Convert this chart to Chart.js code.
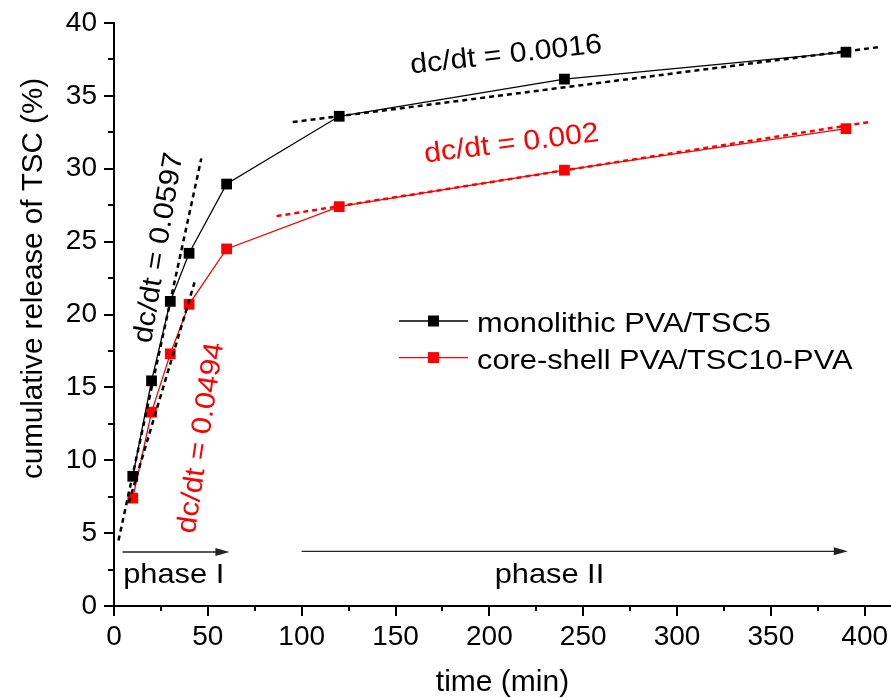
<!DOCTYPE html>
<html>
<head>
<meta charset="utf-8">
<script src="https://cdn.jsdelivr.net/npm/chart.js@4.4.1/dist/chart.umd.min.js"></script>
<style>
  html, body { margin: 0; padding: 0; background: #fff; }
  #wrap { width: 891px; height: 698px; }
</style>
</head>
<body>
<div id="wrap"><canvas id="c" width="891" height="698"></canvas></div>
<script>
// ---- data ----
const times = [10, 20, 30, 40, 60, 120, 240, 390];
const monolithic = [8.9, 15.45, 20.9, 24.2, 28.95, 33.6, 36.15, 38.0];
const coreShell = [7.4, 13.3, 17.3, 20.7, 24.5, 27.4, 29.9, 32.75];
const seriesLabels = ['monolithic PVA/TSC5', 'core-shell PVA/TSC10-PVA'];

// linear fits (dashed), endpoints in (time, %)
const fitMonoI_t = [2.4, 46.5];   const fitMonoI_c = [4.5, 30.7];
const fitCoreI_t = [7.9, 42.9];   const fitCoreI_c = [7.1, 22.2];
const fitMonoII_t = [95.2, 407.8]; const fitMonoII_c = [33.2, 38.35];
const fitCoreII_t = [86.6, 402];   const fitCoreII_c = [26.75, 33.2];

// slope labels
const slopeLabels = ['dc/dt = 0.0016', 'dc/dt = 0.002', 'dc/dt = 0.0597', 'dc/dt = 0.0494'];
const slopeLabel_t = [209.4, 212.3, 28.1, 50.6];
const slopeLabel_c = [37.26, 31.17, 24.49, 11.46];

// phase arrows
const phaseLabels = ['phase I', 'phase II'];
const phaseArrowStart_t = [4.5, 100];
const phaseArrowEnd_t = [61.5, 391];
const phaseArrow_c = [3.7, 3.75];
const phaseLabel_t = [31.8, 232];
const phaseLabel_c = [1.58, 1.58];

const xTicks = [0, 50, 100, 150, 200, 250, 300, 350, 400];
const yTicks = [0, 5, 10, 15, 20, 25, 30, 35, 40];

// ---- helpers ----
const pts = (xs, ys) => xs.map((x, i) => ({ x: x, y: ys[i] }));
const FONT = "'Liberation Sans', Arial, sans-serif";

function fitDs(xs, ys, color) {
  return {
    label: '_fit', data: pts(xs, ys), borderColor: color, backgroundColor: color,
    borderWidth: 2.5, borderDash: [5, 4], pointRadius: 0, fill: false, tension: 0
  };
}

function txt(ctx, s, x, y, angleDeg, size, color, align, sx) {
  ctx.save();
  ctx.translate(x, y);
  ctx.rotate(angleDeg * Math.PI / 180);
  ctx.scale(sx, 1);
  ctx.font = size + 'px ' + FONT;
  ctx.fillStyle = color;
  ctx.textAlign = align;
  ctx.textBaseline = 'alphabetic';
  ctx.fillText(s, 0, 0);
  ctx.restore();
}

const extras = {
  id: 'extras',
  afterDraw(chart) {
    const ctx = chart.ctx;
    const xs = chart.scales.x, ys = chart.scales.y;
    const ca = chart.chartArea;

    // minor ticks
    ctx.save();
    ctx.strokeStyle = '#000';
    ctx.lineWidth = 2;
    for (let v = 25; v < 414; v += 50) {
      const px = Math.round(xs.getPixelForValue(v));
      ctx.beginPath(); ctx.moveTo(px, ca.bottom); ctx.lineTo(px, ca.bottom + 5); ctx.stroke();
    }
    for (let v = 2.5; v < 40; v += 5) {
      const py = Math.round(ys.getPixelForValue(v));
      ctx.beginPath(); ctx.moveTo(ca.left, py); ctx.lineTo(ca.left - 6, py); ctx.stroke();
    }
    ctx.restore();

    // phase arrows
    for (let i = 0; i < phaseLabels.length; i++) {
      const x0 = xs.getPixelForValue(phaseArrowStart_t[i]);
      const x1 = xs.getPixelForValue(phaseArrowEnd_t[i]);
      const y = ys.getPixelForValue(phaseArrow_c[i]);
      ctx.save();
      ctx.strokeStyle = '#222'; ctx.fillStyle = '#222'; ctx.lineWidth = 1.4;
      ctx.beginPath(); ctx.moveTo(x0, y); ctx.lineTo(x1 - 10, y); ctx.stroke();
      ctx.beginPath(); ctx.moveTo(x1, y); ctx.lineTo(x1 - 14, y - 4); ctx.lineTo(x1 - 14, y + 4); ctx.closePath(); ctx.fill();
      ctx.restore();
      txt(ctx, phaseLabels[i], xs.getPixelForValue(phaseLabel_t[i]), ys.getPixelForValue(phaseLabel_c[i]), 0, 28, '#000', 'center', 1.1);
    }

    // slope labels
    const angles = [-6.3, -7, -80.6, -81.5];
    const colors = ['#000', '#ff0000', '#000', '#ff0000'];
    for (let i = 0; i < slopeLabels.length; i++) {
      txt(ctx, slopeLabels[i], xs.getPixelForValue(slopeLabel_t[i]), ys.getPixelForValue(slopeLabel_c[i]),
          angles[i], 28, colors[i], 'center', 1.08);
    }

    // legend
    const lcol = ['#000', '#ff0000'];
    const lx = ca.left + 285, ly0 = ca.top + 298, gap = 36.6;
    for (let i = 0; i < 2; i++) {
      const y = ly0 + i * gap;
      ctx.save();
      ctx.strokeStyle = lcol[i]; ctx.fillStyle = lcol[i]; ctx.lineWidth = 1.3;
      ctx.beginPath(); ctx.moveTo(lx, y); ctx.lineTo(lx + 69, y); ctx.stroke();
      ctx.fillRect(lx + 29, y - 5.5, 11, 11);
      ctx.restore();
      txt(ctx, seriesLabels[i], lx + 78, y + 11, 0, 28, '#000', 'left', 1.1);
    }

    // y axis title
    txt(ctx, 'cumulative release of TSC (%)', 41.5, 278.5, -90, 29, '#000', 'center', 1.02);
  }
};

new Chart(document.getElementById('c'), {
  type: 'line',
  data: {
    datasets: [
      fitDs(fitMonoI_t, fitMonoI_c, '#000'),
      fitDs(fitCoreI_t, fitCoreI_c, '#000'),
      fitDs(fitMonoII_t, fitMonoII_c, '#000'),
      fitDs(fitCoreII_t, fitCoreII_c, '#ff0000'),
      {
        label: seriesLabels[0], data: pts(times, monolithic),
        borderColor: '#000', backgroundColor: '#000', borderWidth: 1.3,
        pointStyle: 'rect', pointRadius: 7.6, pointBorderWidth: 0, tension: 0, fill: false
      },
      {
        label: seriesLabels[1], data: pts(times, coreShell),
        borderColor: '#ff0000', backgroundColor: '#ff0000', borderWidth: 1.3,
        pointStyle: 'rect', pointRadius: 7.6, pointBorderWidth: 0, tension: 0, fill: false
      }
    ]
  },
  options: {
    responsive: false,
    animation: false,
    events: [],
    layout: { autoPadding: false, padding: { top: 23, left: 0, right: 0, bottom: 0 } },
    plugins: { legend: { display: false }, tooltip: { enabled: false } },
    scales: {
      x: {
        type: 'linear', min: 0, max: 414,
        afterBuildTicks: s => { s.ticks = xTicks.map(v => ({ value: v })); },
        afterFit: s => { s.height = 92; s.paddingRight = 0; s.paddingLeft = 0; },
        ticks: { stepSize: 50, color: '#000', font: { family: FONT, size: 28 }, padding: 4, maxRotation: 0, autoSkip: false },
        grid: { drawOnChartArea: false, drawTicks: true, tickLength: 10, color: '#000', lineWidth: 2 },
        border: { display: true, color: '#000', width: 2 },
        title: { display: true, text: 'time (min)', color: '#000', font: { family: FONT, size: 30, lineHeight: 1 }, padding: 0 }
      },
      y: {
        type: 'linear', min: 0, max: 40,
        afterBuildTicks: s => { s.ticks = yTicks.map(v => ({ value: v })); },
        afterFit: s => { s.width = 114; s.paddingTop = 0; s.paddingBottom = 0; },
        ticks: { stepSize: 5, color: '#000', font: { family: FONT, size: 28 }, padding: 7 },
        grid: { drawOnChartArea: false, drawTicks: true, tickLength: 10, color: '#000', lineWidth: 2 },
        border: { display: true, color: '#000', width: 2 }
      }
    }
  },
  plugins: [extras]
});
</script>
</body>
</html>
